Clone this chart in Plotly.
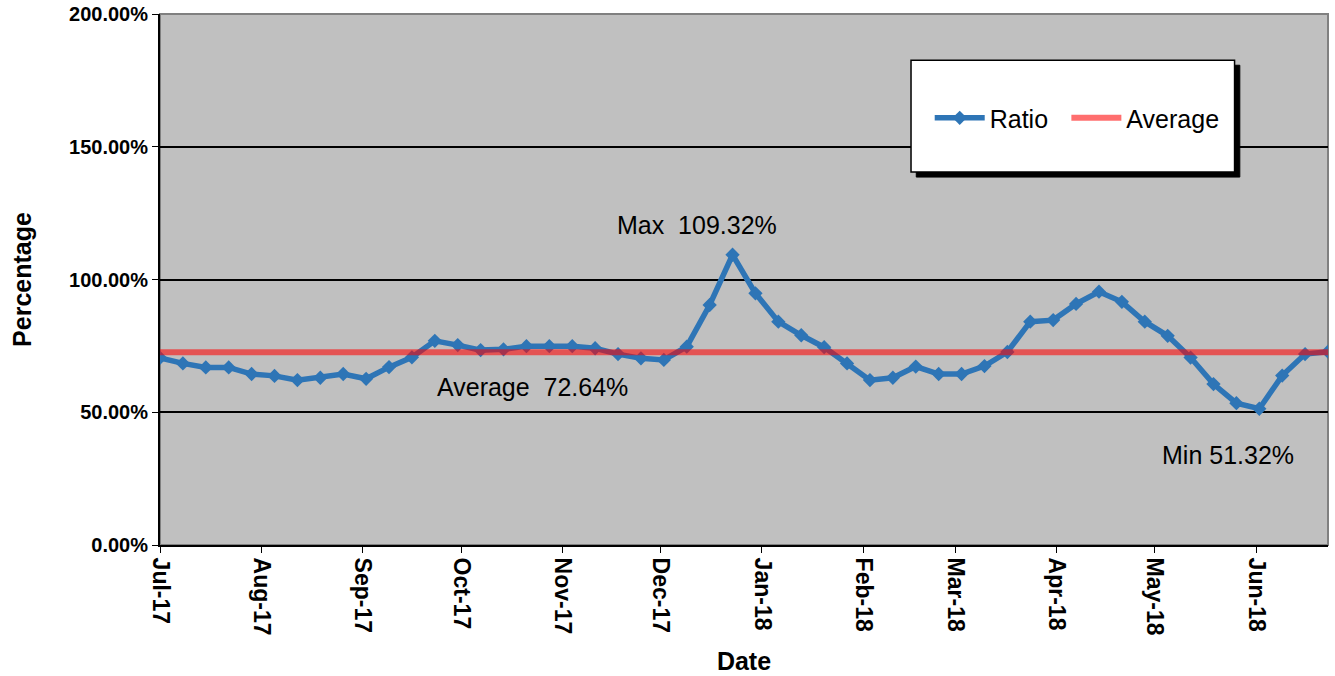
import pandas as pd
import plotly.graph_objects as go

start_date = "2017-07-01"
n_weeks = 52
dates = pd.date_range(start_date, periods=n_weeks, freq="7D")

ratio = [70.5, 68.4, 66.9, 66.9, 64.4, 63.7, 62.1, 63.0, 64.4, 62.6,
         67.0, 70.7, 76.9, 75.3, 73.4, 73.7, 74.9, 74.9, 74.9, 74.1,
         71.9, 70.3, 69.7, 74.7, 90.4, 109.32, 94.8, 84.1, 79.0, 74.5,
         68.4, 62.1, 63.0, 67.2, 64.4, 64.4, 67.4, 72.7, 84.1, 84.7,
         90.8, 95.4, 91.6, 84.1, 78.8, 70.6, 60.6, 53.4, 51.32, 63.8,
         71.9, 72.8]
average = 72.64
y_ticks = [0, 50, 100, 150, 200]

fig = go.Figure()
fig.add_trace(go.Scatter(
    x=dates, y=ratio, name="Ratio", mode="lines+markers",
    line=dict(color="#2E75B6", width=5.5),
    marker=dict(symbol="diamond", size=11, color="#2E75B6"),
    legend="legend",
))
fig.add_trace(go.Scatter(
    x=[dates[0], dates[-1]], y=[average, average], name="Average", mode="lines",
    line=dict(color="rgba(255,0,0,0.57)", width=6),
    legend="legend2",
))

font_main = "Liberation Sans, Arial, sans-serif"
leg_common = dict(orientation="h", y=0.804, xanchor="left", yanchor="middle",
                  bgcolor="rgba(0,0,0,0)", font=dict(size=25, family=font_main),
                  itemwidth=50)

fig.update_layout(
    width=1335, height=676,
    margin=dict(l=160, r=7, t=14, b=131),
    paper_bgcolor="white", plot_bgcolor="#C0C0C0",
    font=dict(family=font_main, color="black"),
    showlegend=True,
    legend=dict(x=0.659, **leg_common),
    legend2=dict(x=0.776, **leg_common),
    xaxis=dict(
        type="date", range=[dates[0], dates[-1]], automargin=False,
        tickmode="linear", tick0="2017-07-01", dtick="M1", tickformat="%b-%y",
        tickangle=90, ticks="outside", ticklen=6, tickcolor="black",
        tickfont=dict(size=23, family=font_main, weight="bold"),
        showgrid=False, showline=True, linecolor="black", linewidth=2,
        title=dict(text="<b>Date</b>", font=dict(size=25), standoff=18),
        zeroline=False,
    ),
    yaxis=dict(
        range=[0, 200], tickvals=y_ticks, automargin=False,
        ticktext=[f"{v:.2f}%" for v in y_ticks],
        ticks="outside", ticklen=6, tickcolor="black",
        tickfont=dict(size=20, family=font_main, weight="bold"),
        showgrid=True, gridcolor="black", gridwidth=1.5,
        showline=True, linecolor="black", linewidth=2,
        title=dict(text="<b>Percentage</b>", font=dict(size=25), standoff=30),
        zeroline=False,
    ),
)

# plot border (right side grey)
fig.add_shape(type="rect", xref="paper", yref="paper", x0=0, x1=1, y0=0, y1=1,
              line=dict(color="#808080", width=2), layer="below")

# legend box with shadow
lx0, lx1, ly0, ly1 = 0.643, 0.920, 0.7024, 0.913
dx, dy = 0.0045, 0.0095
fig.add_shape(type="rect", xref="paper", yref="paper",
              x0=lx0 + dx, x1=lx1 + dx, y0=ly0 - dy, y1=ly1 - dy,
              fillcolor="black", line=dict(color="black", width=1), layer="above")
fig.add_shape(type="rect", xref="paper", yref="paper",
              x0=lx0, x1=lx1, y0=ly0, y1=ly1,
              fillcolor="white", line=dict(color="black", width=1.5), layer="above")

ann_font = dict(size=25, family=font_main, color="black")
fig.add_annotation(x=0.46, xref="paper", y=120.5, yref="y", text="Max  109.32%",
                   xanchor="center", yanchor="middle", showarrow=False, font=ann_font)
fig.add_annotation(x=0.3185, xref="paper", y=59.5, yref="y", text="Average  72.64%",
                   xanchor="center", yanchor="middle", showarrow=False, font=ann_font)
fig.add_annotation(x=0.914, xref="paper", y=33.9, yref="y", text="Min 51.32%",
                   xanchor="center", yanchor="middle", showarrow=False, font=ann_font)

fig.write_html("out.html", config={"displayModeBar": False},
               post_script="document.body.style.margin='0';")
